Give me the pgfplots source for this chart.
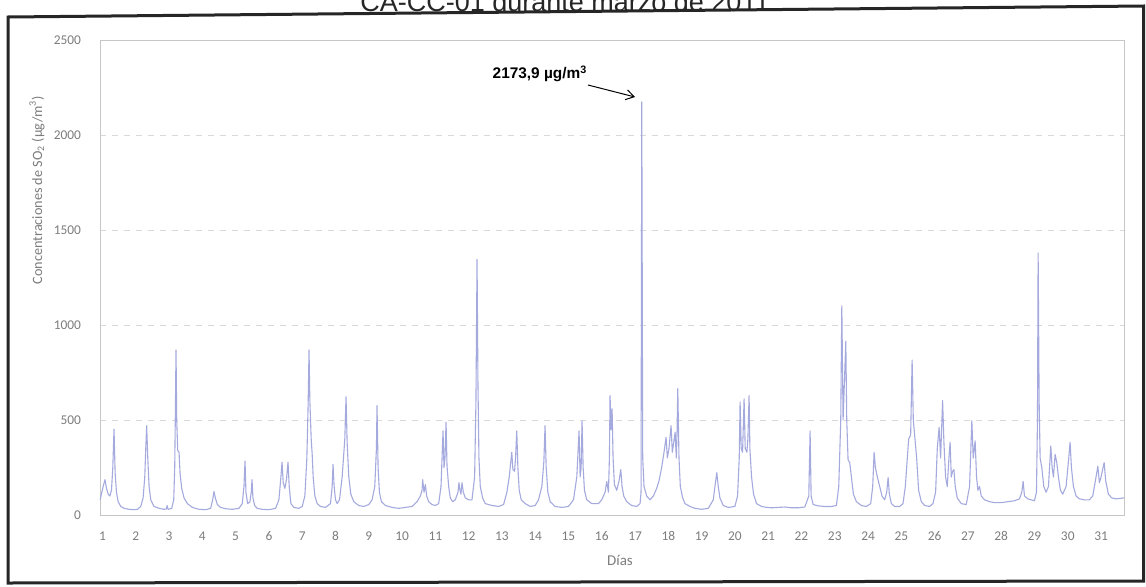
\documentclass[border=0pt]{standalone}
\usepackage{fontspec}
\usepackage{pgfplots}
\pgfplotsset{compat=1.18}
\usetikzlibrary{arrows.meta}
\newfontfamily\carlito{Carlito}
\newfontfamily\arial{Liberation Sans}
\definecolor{series}{RGB}{165,170,222}
\definecolor{lbl}{RGB}{125,125,125}
\pgfplotstableread{
d v
0.93 80
0.98 120
1.02 150
1.075 186
1.12 140
1.17 110
1.22 100
1.27 130
1.31 250
1.346 452
1.38 220
1.42 120
1.47 70
1.55 45
1.65 35
1.8 30
1.95 28
2.05 30
2.15 45
2.22 90
2.27 200
2.30 350
2.328 470
2.36 300
2.40 150
2.45 80
2.55 45
2.7 35
2.85 30
2.92 32
2.94 50
2.97 30
3.08 35
3.14 80
3.17 250
3.19 550
3.209 869
3.23 500
3.26 340
3.30 330
3.33 220
3.38 140
3.45 90
3.55 60
3.7 40
3.9 30
4.1 28
4.25 35
4.31 80
4.35 124
4.39 90
4.45 55
4.55 40
4.7 33
4.9 30
5.1 35
5.2 60
5.25 150
5.282 284
5.31 120
5.36 60
5.43 70
5.47 120
5.492 186
5.52 90
5.57 50
5.65 35
5.8 30
6.0 28
6.2 35
6.3 80
6.36 200
6.394 278
6.43 170
6.48 140
6.53 190
6.574 278
6.61 150
6.66 60
6.75 40
6.9 35
7.0 45
7.08 100
7.14 300
7.18 600
7.205 869
7.23 600
7.27 400
7.30 319
7.33 200
7.38 100
7.45 60
7.55 45
7.7 40
7.85 60
7.90 150
7.926 266
7.96 150
8.0 80
8.05 60
8.12 80
8.2 200
8.28 400
8.317 622
8.35 380
8.40 200
8.46 110
8.55 70
8.7 50
8.85 45
9.0 55
9.1 80
9.18 150
9.23 350
9.248 576
9.28 250
9.32 120
9.38 70
9.5 50
9.7 40
9.9 35
10.1 40
10.3 45
10.45 70
10.55 100
10.6 130
10.62 186
10.66 120
10.70 160
10.74 100
10.8 70
10.9 55
11.0 50
11.1 60
11.17 150
11.231 443
11.26 250
11.29 300
11.322 489
11.35 260
11.40 150
11.45 90
11.52 70
11.6 80
11.68 120
11.71 170
11.74 130
11.77 110
11.80 170
11.84 120
11.9 90
12.0 80
12.1 80
12.18 200
12.22 600
12.253 1345
12.28 700
12.31 300
12.35 150
12.42 90
12.5 60
12.7 50
12.9 45
13.05 55
13.15 120
13.22 200
13.296 330
13.33 240
13.38 230
13.41 300
13.446 443
13.48 250
13.52 130
13.58 80
13.7 60
13.85 45
14.0 50
14.1 80
14.2 150
14.26 280
14.296 470
14.33 250
14.38 120
14.45 70
14.6 45
14.8 40
15.0 45
15.15 80
15.25 200
15.318 443
15.35 200
15.38 250
15.408 496
15.44 250
15.48 130
15.55 80
15.7 60
15.9 60
16.0 80
16.1 120
16.15 177
16.2 120
16.23 300
16.249 629
16.28 450
16.31 559
16.34 300
16.38 160
16.45 130
16.52 180
16.571 239
16.61 150
16.66 100
16.75 70
16.9 50
17.05 45
17.15 60
17.18 120
17.202 2173.9
17.23 300
17.27 150
17.35 100
17.45 80
17.55 100
17.65 140
17.72 180
17.8 250
17.87 330
17.932 409
17.97 300
18.02 350
18.082 470
18.12 330
18.16 380
18.203 436
18.24 300
18.26 420
18.284 665
18.32 300
18.36 150
18.43 90
18.5 60
18.65 45
18.8 35
19.0 30
19.2 35
19.35 80
19.40 150
19.456 223
19.5 150
19.55 90
19.65 50
19.8 40
20.0 45
20.08 100
20.13 300
20.156 595
20.19 350
20.23 330
20.276 612
20.31 350
20.36 330
20.39 400
20.426 629
20.45 350
20.5 200
20.56 110
20.65 60
20.8 45
20.95 40
21.1 38
21.3 40
21.5 42
21.7 38
21.9 38
22.1 42
22.22 100
22.259 443
22.29 100
22.35 55
22.5 48
22.7 45
22.9 45
23.05 50
23.12 150
23.18 500
23.212 1101
23.25 500
23.29 700
23.332 915
23.36 500
23.4 290
23.45 276
23.5 200
23.56 110
23.65 70
23.8 50
23.95 45
24.08 60
24.14 150
24.182 330
24.22 250
24.28 200
24.35 150
24.42 100
24.5 80
24.56 120
24.603 197
24.64 110
24.7 60
24.8 45
24.95 45
25.05 60
25.12 150
25.18 300
25.22 400
25.28 420
25.324 816
25.36 500
25.41 400
25.46 300
25.52 130
25.6 70
25.7 50
25.85 45
25.95 60
26.03 120
26.08 350
26.135 462
26.18 300
26.24 603
26.28 380
26.33 200
26.38 150
26.43 300
26.466 383
26.5 200
26.54 230
26.58 239
26.62 150
26.68 90
26.8 60
26.95 55
27.05 150
27.118 496
27.16 300
27.217 390
27.26 200
27.3 130
27.35 150
27.4 100
27.5 80
27.65 70
27.8 65
28.0 65
28.2 70
28.4 75
28.55 85
28.62 120
28.659 177
28.7 100
28.8 85
28.9 80
29.0 75
29.06 120
29.09 500
29.11 1380
29.14 600
29.17 300
29.22 250
29.28 150
29.35 120
29.42 150
29.49 363
29.53 250
29.57 200
29.62 319
29.67 276
29.72 200
29.78 130
29.85 110
29.95 150
30.03 300
30.07 383
30.11 250
30.17 150
30.25 100
30.35 85
30.5 80
30.65 80
30.75 100
30.85 200
30.904 257
30.95 170
31.0 200
31.093 276
31.14 180
31.22 110
31.32 90
31.45 85
31.6 88
31.69 90
}\sotable
\begin{document}
\begin{tikzpicture}
\useasboundingbox (0,0) rectangle (573pt,293pt);
\clip (0,0) rectangle (573pt,293pt);
\fill[white] (0,0) rectangle (573pt,293pt);
\begin{axis}[
  at={(50pt,35.5pt)}, anchor=south west, scale only axis,
  width=512pt, height=237.5pt,
  xmin=0.925, xmax=31.69, ymin=0, ymax=2500,
  xtick={1,...,31}, ytick={0,500,...,2500},
  major tick length=0pt,
  ymajorgrids, grid style={dashed, gray!30},
  axis line style={gray!45, line width=0.4pt},
  tick label style={font=\carlito\fontsize{6.7}{8}\selectfont, text=lbl},
  /pgf/number format/assume math mode=true,
  /pgf/number format/1000 sep={},
  yticklabel style={xshift=-6pt},
  xticklabel style={yshift=-4pt, text height=5pt, text depth=0pt},
]
\addplot[series, line width=0.55pt, line join=round] table[x=d, y=v] {\sotable};
\end{axis}
\node[rotate=90, text=lbl, font=\carlito\fontsize{7.1}{8.5}\selectfont] at (18.5pt,198pt) {Concentraciones de SO\textsubscript{2} (µg/m\textsuperscript{3})};
\node[text=lbl, font=\carlito\fontsize{7.5}{9}\selectfont] at (310pt,13pt) {Días};
\node[anchor=base, font=\arial\fontsize{13.5}{15}\selectfont, text=black!85] at (282.5pt,287.5pt) {CA-CC-01 durante marzo de 2011};
\node[font=\arial\bfseries\fontsize{7.7}{9}\selectfont] at (270pt,256pt) {2173,9 µg/m\textsuperscript{3}};
\draw[-{Straight Barb[length=4pt,width=5pt]}, line width=0.5pt] (294pt,250.5pt) -- (317.5pt,244.5pt);
\draw[line width=1.5pt, black!85] (4pt,284.5pt) -- (571.8pt,290pt) -- (571.8pt,2.5pt) -- (4pt,1.5pt) -- cycle;
\end{tikzpicture}
\end{document}
